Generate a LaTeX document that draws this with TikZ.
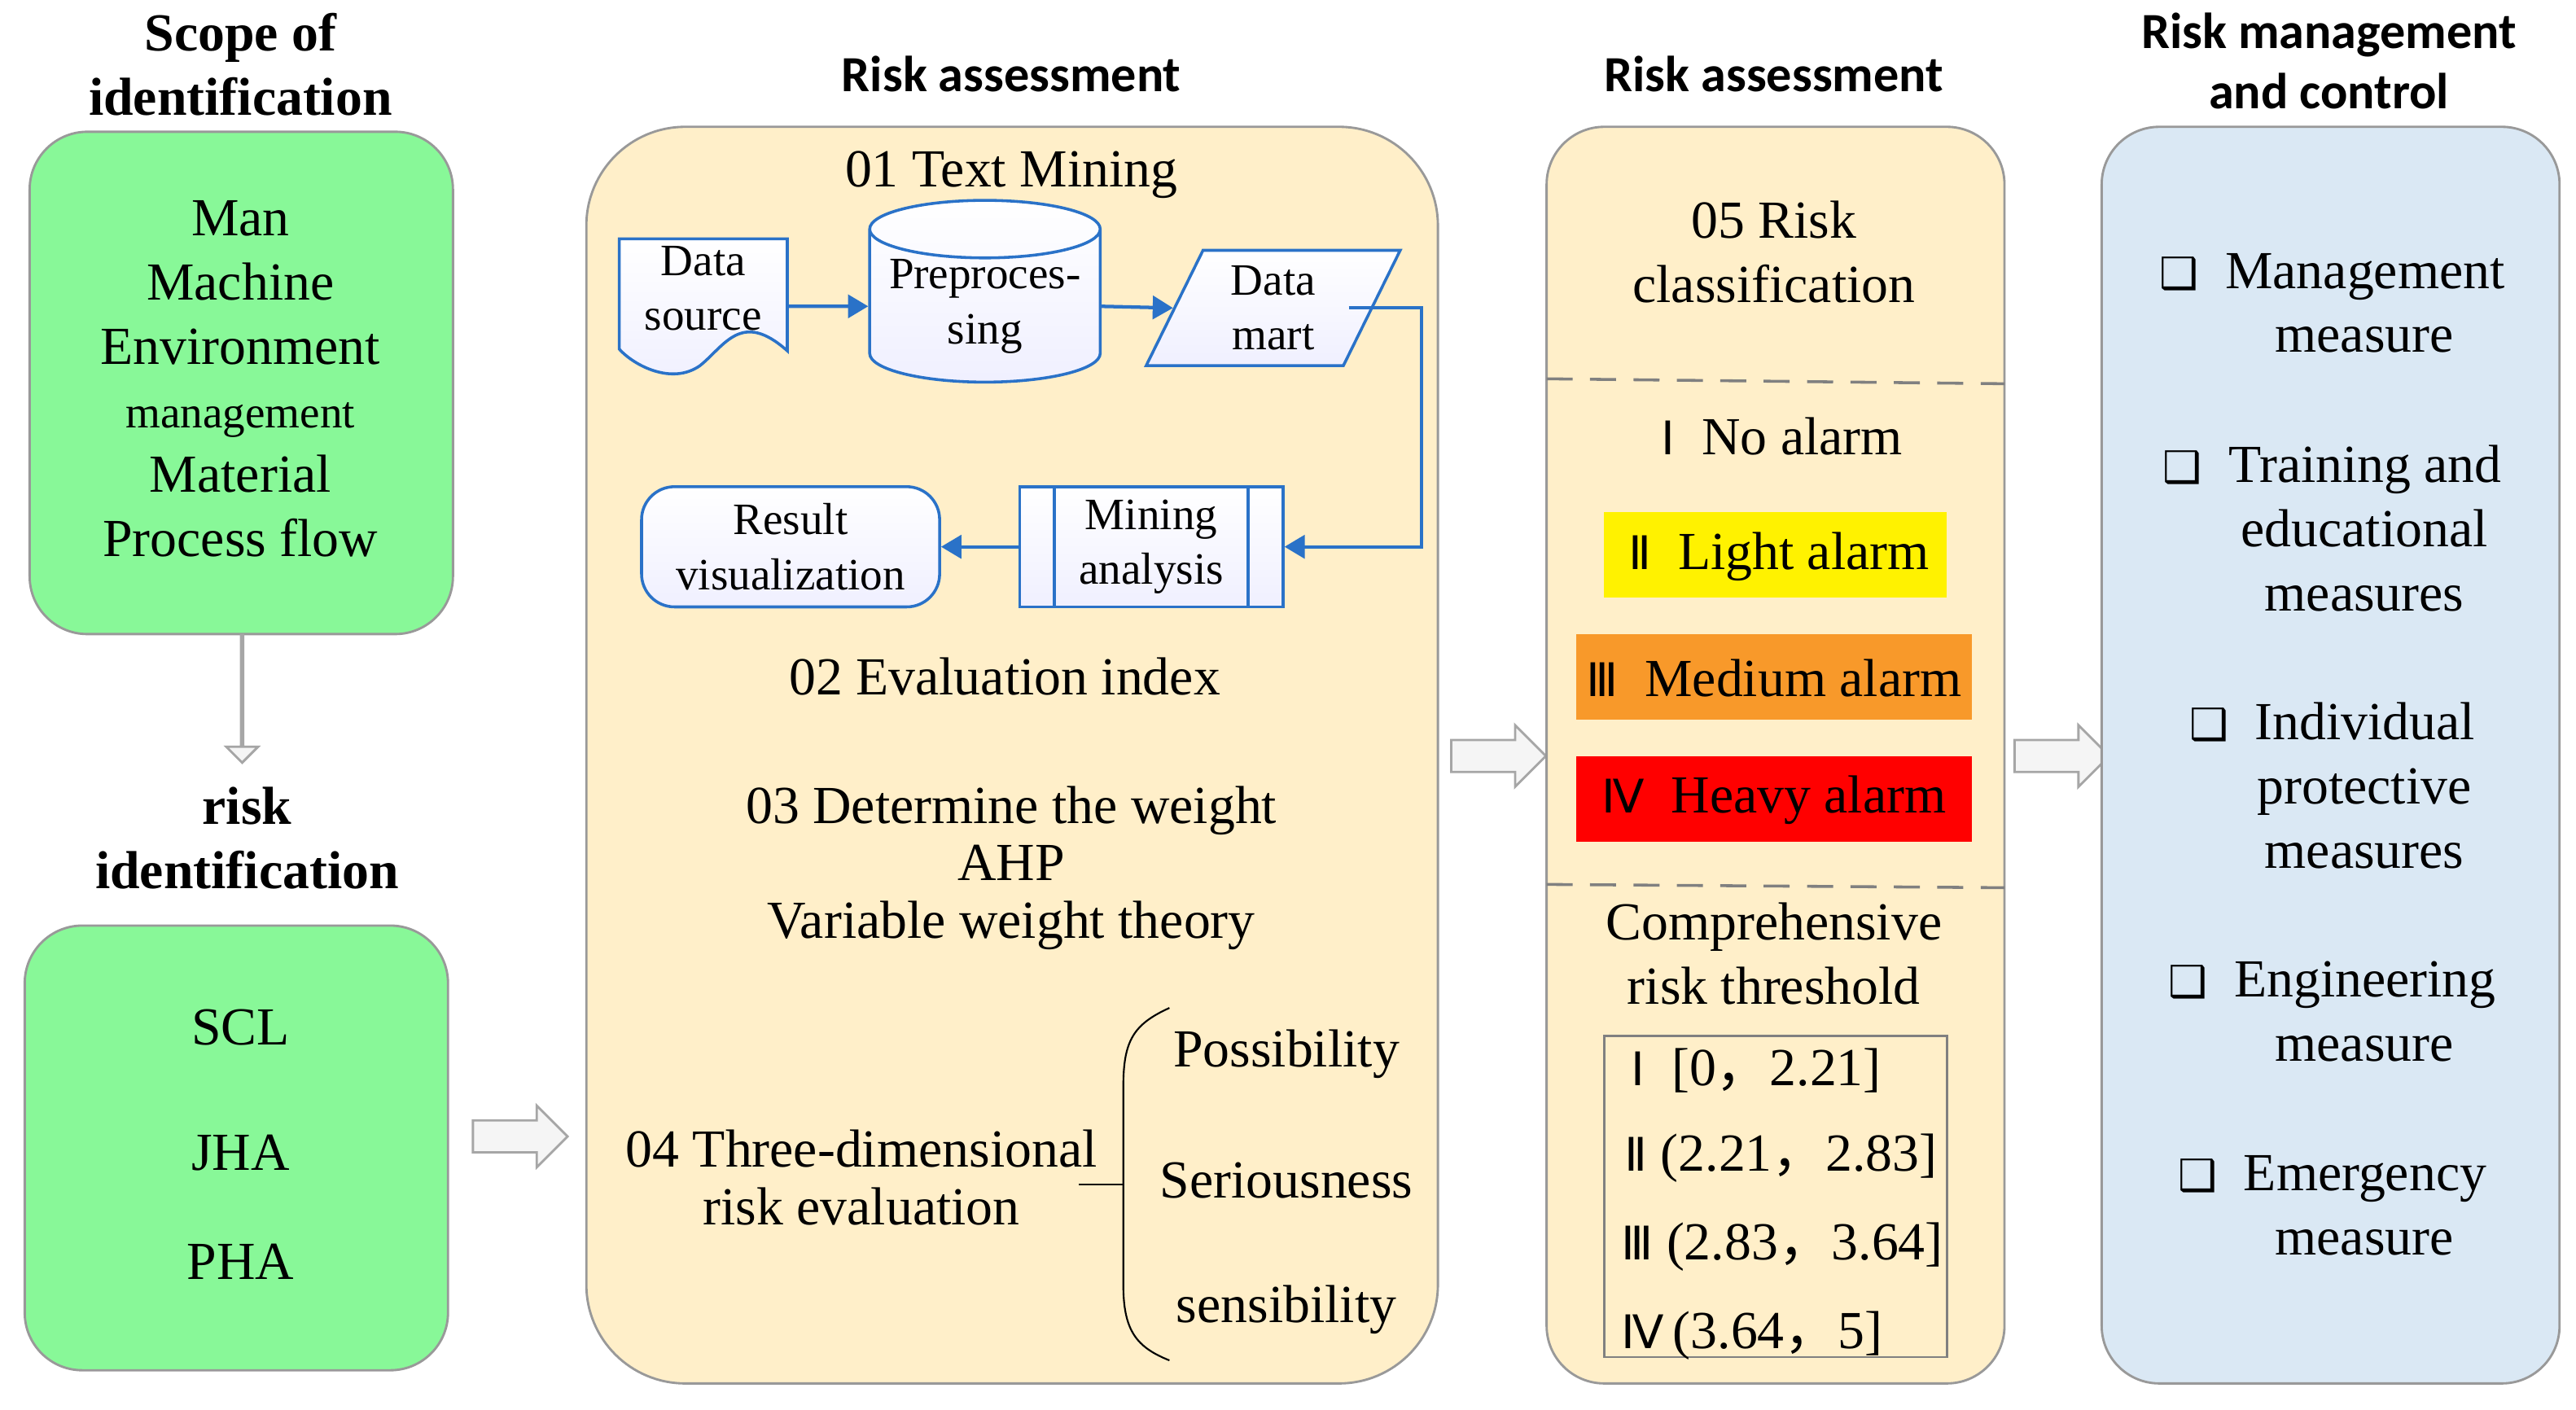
\documentclass[tikz,border=0pt]{standalone}
\usepackage{fontspec}
\setmainfont{Liberation Serif}
\setsansfont{Carlito}
\newfontfamily\symfont{DejaVu Sans}
\newfontfamily\cjk{Noto Sans CJK SC}
\usetikzlibrary{shapes.geometric,shapes.arrows,positioning,arrows.meta}
\definecolor{greenbox}{HTML}{88F898}
\definecolor{sandbox}{HTML}{FFEFC9}
\definecolor{bluebox}{HTML}{DAE8F4}
\definecolor{flowblue}{HTML}{2A72C8}
\definecolor{orangealarm}{HTML}{F8992A}
\newcommand{\rn}[1]{{\symfont\fontsize{16}{18}\selectfont #1}}
\newcommand{\chk}{{\symfont\fontsize{15}{15}\selectfont ❑}}
\newcommand{\fc}{{\cjk ，}}
\tikzset{
  txt/.style={font=\fontsize{18.5}{22.2}\selectfont, align=center, inner sep=0pt},
  head/.style={font=\sffamily\bfseries\fontsize{17.5}{21}\selectfont, align=center, inner sep=0pt},
  shead/.style={font=\bfseries\fontsize{18.5}{22.2}\selectfont, align=center, inner sep=0pt},
  panel/.style={draw=gray!80, line width=0.8pt, rounded corners=0.7cm},
  flow/.style={draw=flowblue, line width=1pt, top color=white, bottom color=blue!6, txt, font=\fontsize{15.5}{19}\selectfont},
  link/.style={flowblue, line width=1.2pt, -{Triangle[length=7pt,width=8pt]}},
  hollow/.style={single arrow, draw=gray!70, fill=gray!8, line width=0.8pt, minimum height=1.15cm, single arrow head extend=0.18cm, inner xsep=0pt, inner ysep=0.18cm},
  alarm/.style={txt, minimum height=1.04cm}
}
\begin{document}
\begin{tikzpicture}[x=0.02cm, y=-0.02cm]
\useasboundingbox (0,0) rectangle (1564,856);

% column 1: identification
\node[shead] (scopeT) at (146,39) {Scope of\\identification};
\draw[panel, fill=greenbox] (18,80) rectangle (275,385);
\node[txt] (scope) at (146,230) {Man\\Machine\\Environment\\{\fontsize{15.5}{22.2}\selectfont management}\\Material\\Process flow};
\node[hollow, minimum height=1.55cm, shape border rotate=270] (down) at (147,424) {};
\node[shead] (riskT) at (150,509) {risk\\identification};
\draw[panel, fill=greenbox] (15,562) rectangle (272,832);
\node[txt] (scl) at (146,624) {SCL};
\node[txt] (jha) at (146,700) {JHA};
\node[txt] (pha) at (146,766) {PHA};
\node[hollow] (toAssess) at (311,690) {};

% column 2: risk assessment
\node[head] (assessT) at (614,45) {Risk assessment};
\draw[panel, fill=sandbox, rounded corners=1.2cm] (356,77) rectangle (873,840);
\node[txt] (mining) at (614,106) {01 Text Mining};
% data source document
\draw[flow] (376,145) -- (478,145) -- (478,213) .. controls (450,188) and (440,210) .. (425,222)
  .. controls (408,234) and (385,222) .. (376,212) -- cycle;
\node[txt, font=\fontsize{15.5}{19}\selectfont] (source) at (427,175) {Data\\source};
\node[flow, cylinder, shape border rotate=90, aspect=0.3, minimum width=2.8cm, minimum height=1.8cm] (prep) at (598,186) {Preproces-\\sing};
\node[flow, trapezium, trapezium left angle=68, trapezium right angle=112, minimum width=3.1cm, minimum height=1.4cm, trapezium stretches=true, inner sep=0pt] (mart) at (773,187) {Data\\mart};
\node[flow, minimum width=3.2cm, minimum height=1.46cm] (anal) at (699,332) {Mining\\analysis};
\draw[flowblue, line width=1pt] ([xshift=0.44cm]anal.north west) -- ([xshift=0.44cm]anal.south west)
  ([xshift=-0.44cm]anal.north east) -- ([xshift=-0.44cm]anal.south east);
\node[flow, rounded corners=0.4cm, minimum width=3.62cm, minimum height=1.46cm] (result) at (480,332) {Result\\visualization};
\coordinate (docR) at (478,186);
\draw[link] (docR) -- (prep.west);
\draw[link] (prep.east) -- (mart.west);
\draw[link] ([xshift=-0.3cm]mart.east) -| (863,260) |- (anal.east);
\draw[link] (anal.west) -- (result.east);
\node[txt] (index) at (610,411) {02 Evaluation index};
\node[txt, font=\fontsize{18.5}{19.8}\selectfont] (weight) at (614,527) {03 Determine the weight\\AHP\\Variable weight theory};
\node[txt, font=\fontsize{18.5}{20}\selectfont] (three) at (523,715) {04 Three-dimensional\\risk evaluation};
\coordinate (braceM) at (682,719);
\draw[black, line width=0.6pt] (655,719) -- (braceM);
\draw[black, line width=0.6pt] (710,612) .. controls (688,622) and (682,632) .. (682,660) -- (682,780)
  .. controls (682,808) and (690,818) .. (710,826);
\node[txt] (poss) at (781,640) {Possibility};
\node[txt] (seri) at (781,717) {Seriousness};
\node[txt] (sens) at (781,795) {sensibility};
\node[hollow] (toClass) at (905,459) {};

% column 3: classification
\node[head] (classT) at (1077,45) {Risk assessment};
\draw[panel, fill=sandbox] (939,77) rectangle (1217,840);
\node[txt] (classif) at (1077,153) {05 Risk\\classification};
\draw[gray, line width=1pt, dash pattern=on 9pt off 6pt] (939,230) -- (1217,233);
\draw[gray, line width=1pt, dash pattern=on 9pt off 6pt] (939,537) -- (1217,539);
\node[txt] (noAl) at (1082,265) {\rn{Ⅰ}\ \ No alarm};
\fill[yellow] (974,311) rectangle (1182,363);
\node[alarm] (lightAl) at (1080,338) {\rn{Ⅱ}\ \ Light alarm};
\fill[orangealarm] (957,385) rectangle (1197,437);
\node[alarm] (medAl) at (1077,412) {\rn{Ⅲ}\ \ Medium alarm};
\fill[red] (957,459) rectangle (1197,511);
\node[alarm] (heavyAl) at (1077,486) {\rn{Ⅳ}\ \ Heavy alarm};
\node[txt] (compr) at (1077,579) {Comprehensive\\risk threshold};
\draw[gray, line width=0.8pt] (974,629) rectangle (1182,824);
\node[txt, anchor=west] (th1) at (990,650) {\rn{Ⅰ}\ \ [0\fc 2.21]};
\node[txt, anchor=west] (th2) at (986,703) {\rn{Ⅱ}\ (2.21\fc 2.83]};
\node[txt, anchor=west] (th3) at (984,757) {\rn{Ⅲ}\ (2.83\fc 3.64]};
\node[txt, anchor=west] (th4) at (984,811) {\rn{Ⅳ}\,(3.64\fc 5]};
\node[hollow] (toCtrl) at (1247,459) {};

% column 4: control
\node[head] (ctrlT) at (1414,37) {Risk management\\and control};
\draw[panel, fill=bluebox] (1276,77) rectangle (1554,840);
\node[txt] (m1) at (1416,184) {\chk\ \ Management\\\hspace{1.2em}measure};
\node[txt] (m2) at (1416,321) {\chk\ \ Training and\\\hspace{1.2em}educational\\\hspace{1.2em}measures};
\node[txt] (m3) at (1416,477) {\chk\ \ Individual\\\hspace{1.2em}protective\\\hspace{1.2em}measures};
\node[txt] (m4) at (1416,614) {\chk\ \ Engineering\\\hspace{1.2em}measure};
\node[txt] (m5) at (1416,732) {\chk\ \ Emergency\\\hspace{1.2em}measure};
\end{tikzpicture}
\end{document}
